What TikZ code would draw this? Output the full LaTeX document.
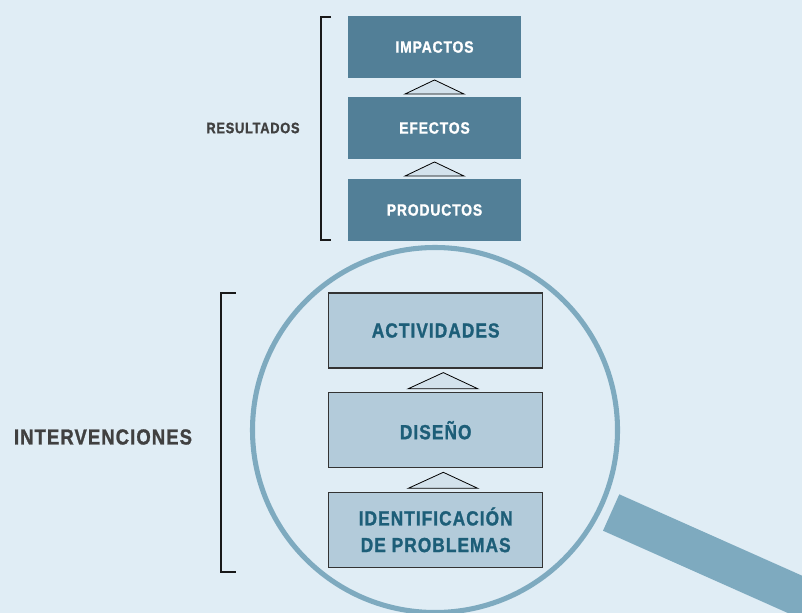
\documentclass[tikz,border=0pt]{standalone}
\usepackage{fontspec}
\setmainfont{Liberation Sans}[FakeStretch=0.85,LetterSpace=5,BoldFeatures={FakeBold=1.2}]
\usetikzlibrary{calc}
\definecolor{bg}{HTML}{E0EDF5}
\definecolor{topbox}{HTML}{527F97}
\definecolor{lowbox}{HTML}{B3CBDA}
\definecolor{lowtext}{HTML}{1D5E78}
\definecolor{ring}{HTML}{7EAABF}
\definecolor{tri}{HTML}{D3E2EC}
\definecolor{labeltext}{HTML}{404040}
\tikzset{
  topnode/.style={fill=topbox, text=white, minimum width=173*0.75pt, minimum height=62*0.75pt, inner sep=0pt, font=\fontsize{12.3}{14}\selectfont\bfseries},
  lownode/.style={fill=lowbox, draw=black!80, line width=0.9pt, text=lowtext, minimum width=214*0.75pt, minimum height=75*0.75pt, inner sep=0pt, align=center, font=\fontsize{15.3}{20}\selectfont\bfseries},
  sidelabel/.style={text=labeltext, inner sep=0pt, font=\bfseries},
  brk/.style={draw=black!90, line width=1.3pt},
  tristyle/.style={fill=tri, draw=black, line width=0.6pt, line join=miter}
}
\begin{document}
\begin{tikzpicture}[x=0.75pt,y=-0.75pt]
\fill[bg] (0,0) rectangle (802,613);
\useasboundingbox (0,0) rectangle (802,613);
\clip (0,0) rectangle (802,613);
% top boxes
\node[topnode] (imp) at (434.5,47) {IMPACTOS};
\node[topnode] (efe) at (434.5,128) {EFECTOS};
\node[topnode] (pro) at (434.5,210) {PRODUCTOS};
% top triangles
\draw[tristyle] ($(efe.north)+(-29.5,-2.7)$) -- ($(imp.south)+(0,1.7)$) -- ($(efe.north)+(29.5,-2.7)$) -- cycle;
\draw[tristyle] ($(pro.north)+(-29.5,-2.7)$) -- ($(efe.south)+(0,2.7)$) -- ($(pro.north)+(29.5,-2.7)$) -- cycle;
% top bracket
\coordinate (tb1) at (331,16.7);
\coordinate (tb2) at (331,239.7);
\draw[brk] (tb1) -- ++(-10.3,0) |- (tb2);
\node[sidelabel, font=\fontsize{11.3}{13}\selectfont\bfseries] (res) at (253,128) {RESULTADOS};
% magnifier ring
\draw[ring, line width=3.8pt] (435,430) circle (182.5);
% handle
\fill[ring] (619.3,494.3) -- (603,530.7) -- ++(24:260) -- ($(619.3,494.3)+(24:260)$) -- cycle;
% lower boxes
\node[lownode] (act) at (435.7,330.5) {ACTIVIDADES};
\node[lownode] (dis) at (435.7,430.2) {DISEÑO};
\node[lownode] (ide) at (435.7,529.8) {IDENTIFICACIÓN\\DE PROBLEMAS};
% lower triangles
\draw[tristyle] ($(dis.north)+(7.3-34.7,-3.4)$) -- ($(act.south)+(7.6,4)$) -- ($(dis.north)+(7.3+34.7,-3.4)$) -- cycle;
\draw[tristyle] ($(ide.north)+(7.3-34.7,-3.4)$) -- ($(dis.south)+(7.6,4)$) -- ($(ide.north)+(7.3+34.7,-3.4)$) -- cycle;
% lower bracket
\coordinate (lb1) at (235.7,293.3);
\coordinate (lb2) at (235.7,571.7);
\draw[brk] (lb1) -- ++(-15,0) |- (lb2);
\node[sidelabel, font=\fontsize{16.3}{19}\selectfont\bfseries] (int) at (103,437) {INTERVENCIONES};
\end{tikzpicture}
\end{document}
